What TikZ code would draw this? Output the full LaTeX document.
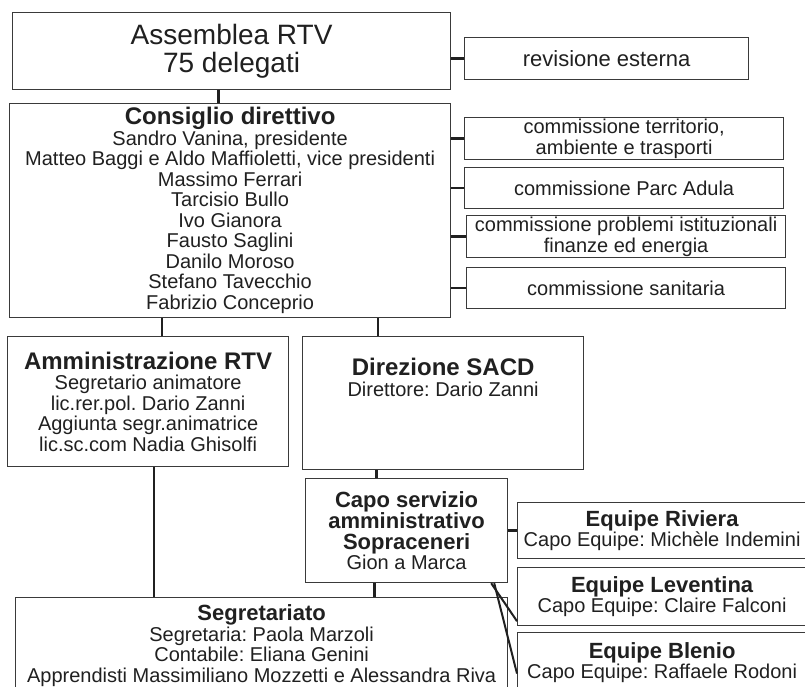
\documentclass[tikz,border=0pt]{standalone}
\usepackage{fontspec}
\setmainfont{Liberation Sans}
\frenchspacing
\usetikzlibrary{positioning}
\definecolor{boxgray}{HTML}{3A3A3A}
\definecolor{inkgray}{HTML}{202020}
\tikzstyle{box}=[draw=boxgray,line width=1.2pt,inner sep=0pt,anchor=north west,align=center,text=inkgray,font=\fontsize{20}{20.5}\selectfont]
\tikzstyle{link}=[draw=inkgray,line width=2.6pt]
\newcommand{\headline}[1]{{\fontsize{22}{22}\bfseries #1}}
\newcommand{\bighead}[1]{{\fontsize{24}{22}\bfseries #1}}

\begin{document}
\begin{tikzpicture}[x=1pt,y=-1pt]
  \path[use as bounding box,fill=white] (0,0) rectangle (805,686);
  \clip (0,0) rectangle (805,686);
  % top level
  \node[box,minimum width=438pt,minimum height=77pt,font=\fontsize{28}{27.5}\selectfont] (asm) at (12,12) {Assemblea RTV\\75 delegati};
  \node[box,minimum width=284pt,minimum height=42pt,font=\fontsize{22}{22}\selectfont] (rev) at (464,37) {revisione esterna};
  \node[box,minimum width=441pt,minimum height=214pt] (cons) at (9,103)
    {\bighead{Consiglio direttivo}\\Sandro Vanina, presidente\\Matteo Baggi e Aldo Maffioletti, vice presidenti\\Massimo Ferrari\\Tarcisio Bullo\\Ivo Gianora\\Fausto Saglini\\Danilo Moroso\\Stefano Tavecchio\\Fabrizio Conceprio};
  % commissioni
  \node[box,minimum width=319pt,minimum height=42pt] (com1) at (464,117) {commissione territorio,\\ambiente e trasporti};
  \node[box,minimum width=319pt,minimum height=41pt] (com2) at (464,167) {commissione Parc Adula};
  \node[box,minimum width=319pt,minimum height=42pt] (com3) at (466,215) {commissione problemi istituzionali\\finanze ed energia};
  \node[box,minimum width=319pt,minimum height=41pt] (com4) at (466,267) {commissione sanitaria};
  % second level
  \node[box,minimum width=281pt,minimum height=130pt] (amm) at (7,336)
    {\bighead{Amministrazione RTV}\\Segretario animatore\\lic.rer.pol. Dario Zanni\\Aggiunta segr.animatrice\\lic.sc.com Nadia Ghisolfi};
  \node[box,minimum width=281pt,minimum height=133pt] (dir) at (302,336) {};
  \node[below=22pt of dir.north,anchor=north,align=center,inner sep=0pt,text=inkgray,font=\fontsize{20}{20.5}\selectfont] (dirtext)
    {\bighead{Direzione SACD}\\Direttore: Dario Zanni};
  \node[box,minimum width=202pt,minimum height=104pt] (capo) at (305,478)
    {\headline{Capo servizio}\\\headline{amministrativo}\\\headline{Sopraceneri}\\Gion a Marca};
  % equipes
  \node[box,minimum width=289pt,minimum height=56pt] (riv) at (517,502) {\headline{Equipe Riviera}\\Capo Equipe: Michèle Indemini};
  \node[box,minimum width=289pt,minimum height=58pt] (lev) at (517,567) {\headline{Equipe Leventina}\\Capo Equipe: Claire Falconi};
  \node[box,minimum width=289pt,minimum height=60pt] (ble) at (517,632) {\headline{Equipe Blenio}\\Capo Equipe: Raffaele Rodoni};
  \node[box,minimum width=492pt,minimum height=96pt] (seg) at (15,597)
    {\headline{Segretariato}\\Segretaria: Paola Marzoli\\Contabile: Eliana Genini\\Apprendisti Massimiliano Mozzetti e Alessandra Riva};
  % connectors
  \draw[link] ([xshift=-13pt]asm.south) -- ([xshift=-13pt]asm.south |- cons.north);
  \draw[link] (rev.west) -- (rev.west -| asm.east);
  \foreach \c in {com1,com2,com3,com4}
    \draw[link] (\c.west) -- (\c.west -| cons.east);
  \draw[link] ([xshift=14pt]amm.north) -- ([xshift=14pt]amm.north |- cons.south);
  \draw[link] ([xshift=-65pt]dir.north) -- ([xshift=-65pt]dir.north |- cons.south);
  \draw[link] ([xshift=-30pt]capo.north) -- ([xshift=-30pt]capo.north |- dir.south);
  \draw[link] (riv.west) -- (riv.west -| capo.east);
  \draw[link] ([xshift=6pt]amm.south) -- ([xshift=6pt]amm.south |- seg.north);
  \draw[link] ([xshift=-32pt]capo.south) -- ([xshift=-32pt]capo.south |- seg.north);
  \draw[link,line width=2pt] ([xshift=-17pt]capo.south east) -- ([yshift=5pt]lev.south west);
  \draw[link,line width=2pt] ([xshift=-14pt]capo.south east) -- ([yshift=-11pt]ble.west);
\end{tikzpicture}
\end{document}
